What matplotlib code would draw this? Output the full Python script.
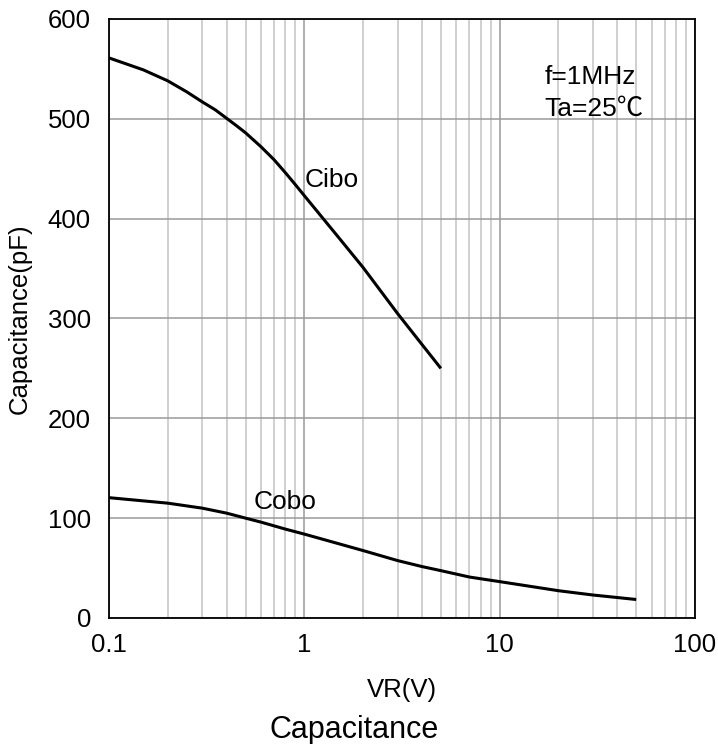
import matplotlib
matplotlib.use('Agg')
import matplotlib.pyplot as plt
from matplotlib.ticker import FixedLocator, LogLocator, NullFormatter

plt.rcParams['font.family'] = ['Liberation Sans', 'DejaVu Sans']

# 数据
cibo_vr = [0.1, 0.15, 0.2, 0.25, 0.3, 0.35, 0.4, 0.45, 0.5, 0.6, 0.7, 0.8, 0.9, 1.0,
           1.5, 2.0, 3.0, 4.0, 5.0]
cibo_c = [561, 549, 538, 527, 517, 509, 500.5, 493, 486, 472, 459, 446, 434, 423,
          381, 351, 305, 274, 250]

cobo_vr = [0.1, 0.2, 0.3, 0.4, 0.5, 0.6, 0.8, 1.0, 2.0, 3.0, 4.0, 5.0, 7.0, 10.0,
           20.0, 30.0, 50.0]
cobo_c = [120.5, 115, 110, 105, 100, 96, 89, 84, 67.5, 57.5, 51.5, 47.4, 41, 36.4,
          27.3, 23, 18.5]

x_ticks = [0.1, 1, 10, 100]
x_tick_labels = ['0.1', '1', '10', '100']
y_ticks = [0, 100, 200, 300, 400, 500, 600]

fig = plt.figure(figsize=(7.18, 7.44), dpi=100)
ax = fig.add_axes([0.1518, 0.1694, 0.8162, 0.8051])

ax.plot(cibo_vr, cibo_c, color='black', linewidth=2.2, zorder=3,
        solid_joinstyle='round', solid_capstyle='butt')
ax.plot(cobo_vr, cobo_c, color='black', linewidth=2.2, zorder=3,
        solid_joinstyle='round', solid_capstyle='butt')

ax.set_xscale('log')
ax.set_xlim(0.1, 100)
ax.set_ylim(0, 600)
ax.xaxis.set_major_locator(FixedLocator(x_ticks))
ax.set_xticklabels(x_tick_labels)
ax.xaxis.set_minor_locator(LogLocator(base=10, subs=range(2, 10), numticks=20))
ax.xaxis.set_minor_formatter(NullFormatter())
ax.set_yticks(y_ticks)

# 网格
ax.grid(True, which='major', color='#9a9a9a', linewidth=1.1)
ax.grid(True, which='minor', axis='x', color='#c4c4c4', linewidth=1.1)
ax.set_axisbelow(True)

ax.tick_params(which='both', length=0)
ax.tick_params(axis='x', labelsize=18.5, pad=11)
ax.tick_params(axis='y', labelsize=18.5, pad=13)

for s in ax.spines.values():
    s.set_color('black')
    s.set_linewidth(1.3)

# 标注
ax.text(1.0, 439, 'Cibo', fontsize=19, ha='left', va='center')
ax.text(0.553, 116, 'Cobo', fontsize=19, ha='left', va='center')
ax.text(17, 542, 'f=1MHz', fontsize=19, ha='left', va='center')
ax.text(17, 510, 'Ta=25℃', fontsize=19, ha='left', va='center',
        family=['Liberation Sans', 'Noto Sans CJK SC', 'DejaVu Sans'])

fig.text(402 / 718, 1 - 690 / 744, 'VR(V)', fontsize=18.5, ha='center', va='center')
fig.text(20 / 718, 1 - 319 / 744, 'Capacitance(pF)', fontsize=18.5, rotation=90,
         ha='center', va='center')
fig.text(354 / 718, 1 - 730 / 744, 'Capacitance', fontsize=22, ha='center', va='center')

plt.savefig('out.png', dpi=100)
plt.close()
